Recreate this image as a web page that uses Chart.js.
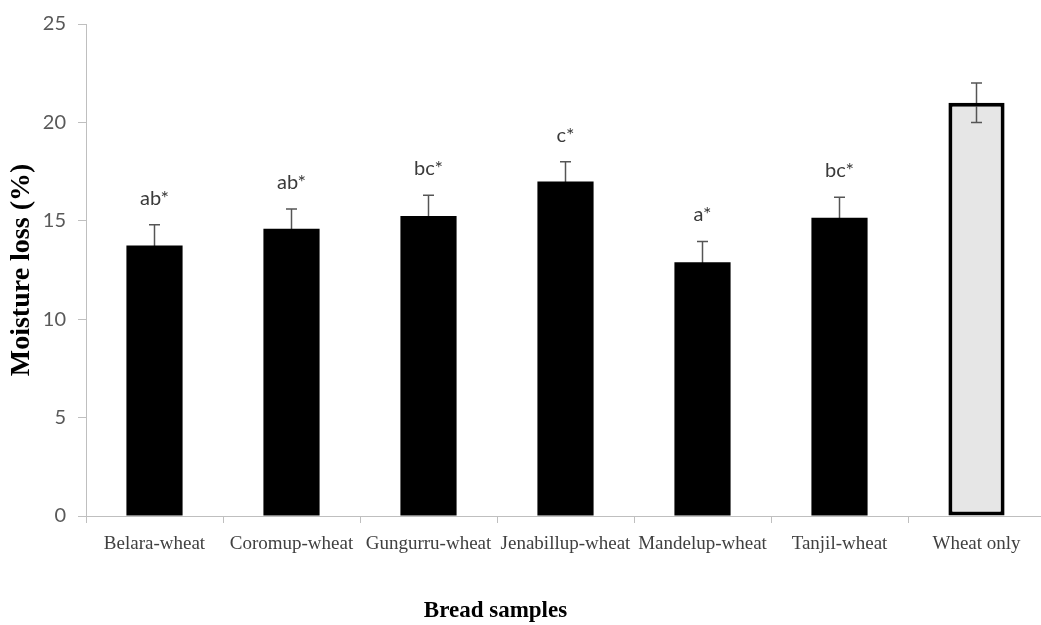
<!DOCTYPE html>
<html>
<head>
<meta charset="utf-8">
<script src="https://cdn.jsdelivr.net/npm/chart.js@4"></script>
<style>
  html, body { margin: 0; padding: 0; background: #fff; overflow: hidden; }
  #wrap { width: 1045px; height: 625px; position: relative; }
</style>
</head>
<body>
<div id="wrap"><canvas id="c"></canvas></div>
<script>
// Bread moisture loss by flour blend
const categories = ['Belara-wheat', 'Coromup-wheat', 'Gungurru-wheat', 'Jenabillup-wheat', 'Mandelup-wheat', 'Tanjil-wheat', 'Wheat only'];
const moistureLoss = [13.75, 14.6, 15.25, 17.0, 12.9, 15.15, 21.0];
const standardError = [1.05, 1.0, 1.05, 1.0, 1.05, 1.05, 1.0];
const significance = ['ab*', 'ab*', 'bc*', 'c*', 'a*', 'bc*', ''];
const yTicks = [0, 5, 10, 15, 20, 25];

const barFill = categories.map((c, i) => i === categories.length - 1 ? '#e6e6e6' : '#000000');
const barBorder = categories.map((c, i) => i === categories.length - 1 ? 4 : 0);

// Whiskers and significance letters on top of the bars
const errorBars = {
  id: 'errorBars',
  afterDatasetsDraw(chart) {
    const { ctx } = chart;
    const y = chart.scales.y;
    const meta = chart.getDatasetMeta(0);
    ctx.save();
    meta.data.forEach((bar, i) => {
      const v = moistureLoss[i], e = standardError[i];
      const yTop = y.getPixelForValue(v + e);
      const yBot = y.getPixelForValue(v - e);
      const x = bar.x;
      ctx.globalCompositeOperation = 'darken';
      ctx.strokeStyle = '#555555';
      ctx.lineWidth = 1.5;
      ctx.beginPath();
      ctx.moveTo(x, yBot); ctx.lineTo(x, yTop);
      ctx.moveTo(x - 5.5, yTop); ctx.lineTo(x + 5.5, yTop);
      ctx.moveTo(x - 5.5, yBot); ctx.lineTo(x + 5.5, yBot);
      ctx.stroke();
      ctx.globalCompositeOperation = 'source-over';
      if (significance[i]) {
        ctx.fillStyle = '#3a3a3a';
        ctx.font = '20px Lato';
        ctx.textAlign = 'center';
        ctx.textBaseline = 'alphabetic';
        ctx.fillText(significance[i], x, yTop - 20);
      }
    });
    ctx.restore();
  }
};

// Axis titles
const axisTitles = {
  id: 'axisTitles',
  afterDraw(chart) {
    const { ctx, chartArea } = chart;
    ctx.save();
    ctx.fillStyle = '#000000';
    ctx.font = 'bold 28px "Liberation Serif"';
    ctx.textAlign = 'center';
    ctx.textBaseline = 'middle';
    ctx.translate(22, (chartArea.top + chartArea.bottom) / 2);
    ctx.rotate(-Math.PI / 2);
    ctx.fillText('Moisture loss (%)', 0, 0);
    ctx.restore();

    ctx.save();
    ctx.fillStyle = '#000000';
    ctx.font = 'bold 23px "Liberation Serif"';
    ctx.textAlign = 'center';
    ctx.textBaseline = 'alphabetic';
    ctx.fillText('Bread samples', chartArea.left + (chartArea.right - chartArea.left) * 0.427, 617);
    ctx.restore();
  }
};

new Chart(document.getElementById('c'), {
  type: 'bar',
  data: {
    labels: categories,
    datasets: [{
      data: moistureLoss,
      backgroundColor: barFill,
      borderColor: '#000000',
      borderWidth: barBorder,
      borderSkipped: false,
      categoryPercentage: 1.0,
      barPercentage: 0.41
    }]
  },
  options: {
    responsive: true,
    maintainAspectRatio: false,
    animation: false,
    events: [],
    layout: { padding: { top: 17, left: 0, right: 0, bottom: 0 } },
    plugins: { legend: { display: false }, tooltip: { enabled: false }, title: { display: false } },
    scales: {
      x: {
        grid: { display: true, drawOnChartArea: false, drawTicks: true, tickLength: 7, color: '#bfbfbf', offset: true },
        border: { color: '#bfbfbf', width: 1 },
        ticks: { font: { family: 'Liberation Serif', size: 19 }, color: '#404040', padding: 10, maxRotation: 0, autoSkip: false },
        afterFit: s => { s.height = 109; }
      },
      y: {
        min: 0, max: 25,
        afterBuildTicks: s => { s.ticks = yTicks.map(v => ({ value: v })); },
        grid: { display: true, drawOnChartArea: false, drawTicks: true, tickLength: 8, color: '#bfbfbf' },
        border: { color: '#bfbfbf', width: 1 },
        ticks: { font: { family: 'Lato', size: 20 }, color: '#595959', padding: 12 },
        afterFit: s => { s.width = 86; }
      }
    }
  },
  plugins: [errorBars, axisTitles]
});
</script>
</body>
</html>
